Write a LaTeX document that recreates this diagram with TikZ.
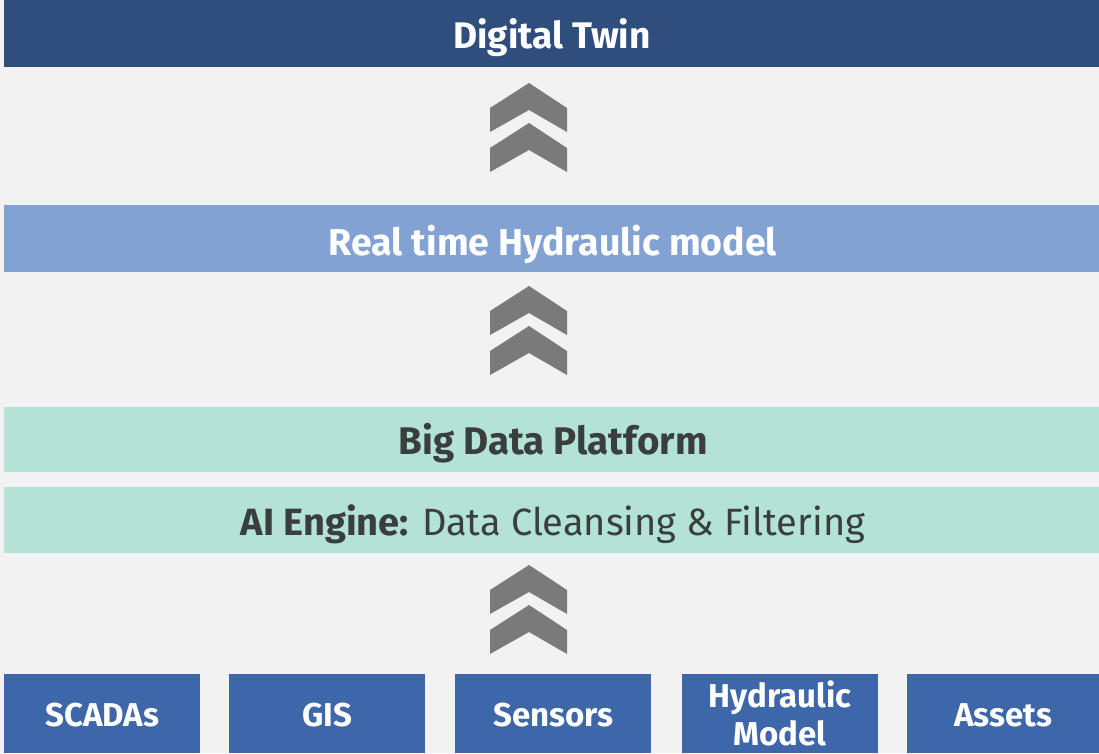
\documentclass[tikz,border=0pt]{standalone}
\usepackage{fontspec}
\setmainfont{Fira Sans}
\usetikzlibrary{positioning}
\definecolor{bgc}{HTML}{F2F2F2}
\definecolor{navy}{HTML}{2F4E7E}
\definecolor{lightblue}{HTML}{82A2D3}
\definecolor{mint}{HTML}{B3E3D7}
\definecolor{boxblue}{HTML}{3E67A9}
\definecolor{chev}{HTML}{7A7A7A}
\definecolor{darktext}{HTML}{3A3E3D}
\tikzset{
  bar/.style={inner sep=0pt, anchor=north west, minimum width=1095pt, minimum height=#1},
  lbl/.style={inner sep=0pt, anchor=base},
  srcbox/.style={fill=boxblue, inner sep=0pt, anchor=north west, minimum width=196pt, minimum height=79pt},
  srclbl/.style={inner sep=0pt, anchor=base, text=white, font=\fontsize{33}{38}\selectfont\bfseries},
  chevshape/.style={fill=chev, draw=none},
}
\newcommand{\mychevron}[3]{% name, x center, y apex
  \fill[chevshape] (#2-39,#3+25) -- (#2,#3) -- (#2+38,#3+25) -- (#2+38,#3+49) -- (#2,#3+27) -- (#2-39,#3+49) -- cycle;
  \fill[chevshape] (#2-39,#3+65) -- (#2,#3+40) -- (#2+38,#3+65) -- (#2+38,#3+89) -- (#2,#3+67) -- (#2-39,#3+89) -- cycle;
  \coordinate (#1) at (#2,#3+45);
}
\begin{document}
\begin{tikzpicture}[x=1pt,y=-1pt]
\fill[bgc] (0,0) rectangle (1099,753);
\useasboundingbox (0,0) rectangle (1099,753);
% bars
\node[bar=67pt, fill=navy] (twin) at (4,0) {};
\node[lbl, text=white, font=\fontsize{37}{37}\selectfont\bfseries] (twinlbl) at (552,48) {Digital Twin};
\node[bar=67pt, fill=lightblue] (rt) at (4,205) {};
\node[lbl, text=white, font=\fontsize{37.5}{37}\selectfont\bfseries] (rtlbl) at (553,255) {Real time Hydraulic model};
\node[bar=65pt, fill=mint] (bdp) at (4,407) {};
\node[lbl, text=darktext, font=\fontsize{38.5}{37}\selectfont\bfseries] (bdplbl) at (553,454) {Big Data Platform};
\node[bar=66pt, fill=mint] (ai) at (4,487) {};
\node[lbl, text=darktext, font=\fontsize{38}{38}\selectfont] (ailbl) at (553,535) {\textbf{AI Engine:} Data Cleansing \& Filtering};
% chevrons
\mychevron{c1}{529}{83}
\mychevron{c2}{529}{286}
\mychevron{c3}{529}{565}
% source boxes
\node[srcbox] (scada) at (4,674) {};
\node[srcbox] (gis) at (229,674) {};
\node[srcbox] (sens) at (455,674) {};
\node[srcbox] (hyd) at (682,674) {};
\node[srcbox, minimum width=192pt] (assets) at (907,674) {};
\node[srclbl] at (scada.center |- 0,726) {SCADAs};
\node[srclbl] at (gis.center |- 0,726) {GIS};
\node[srclbl] at (sens.center |- 0,726) {Sensors};
\node[srclbl] at (hyd.center |- 0,707) {Hydraulic};
\node[srclbl] at (hyd.center |- 0,745) {Model};
\node[srclbl] at (assets.center |- 0,726) {Assets};
\end{tikzpicture}
\end{document}
